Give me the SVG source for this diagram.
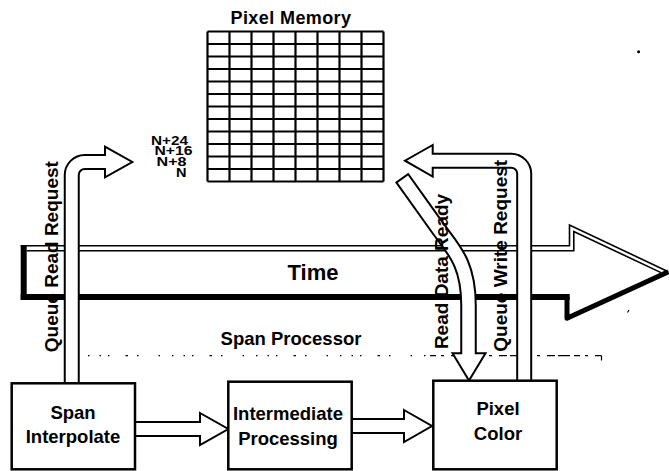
<svg xmlns="http://www.w3.org/2000/svg" width="669" height="471" viewBox="0 0 669 471">
<style>
  text { font-family: "Liberation Sans", Arial, Helvetica, sans-serif; font-weight: bold; fill: #000; }
  .box { fill: #fff; stroke: #000; stroke-width: 2.5; }
  .lbl { font-size: 18.5px; text-anchor: middle; }
  .vlbl { font-size: 19px; text-anchor: middle; }
  .nlbl { font-size: 13px; text-anchor: end; }
  .grid { fill: none; stroke: #000; stroke-width: 2.2; }
  .shaft-out { fill: none; stroke: #000; stroke-width: 16; }
  .shaft-in { fill: none; stroke: #fff; stroke-width: 12; }
  .head { fill: #fff; stroke: #000; stroke-width: 2; stroke-linejoin: miter; }
  .thin { fill: none; stroke: #000; stroke-width: 1.6; }
  .dots { fill: none; stroke: #000; stroke-width: 1.2; }
</style>
<rect width="669" height="471" fill="#fff"/>

<!-- time axis: hollow block arrow with heavy lower/left shadow -->
<g id="time">
  <polygon points="20.7,245.8 569.5,245.8 569.5,225 668.3,271.7 567,318.3 567,300 20.7,300" fill="#fff"/>
  <path class="thin" d="M20.7 245.8H569.5V225L668.3 271.7"/>
  <path class="thin" d="M26.7 250.8H573.8V231.5L661 272.6"/>
  <rect x="20.7" y="245" width="6" height="55" fill="#000"/>
  <rect x="20.7" y="294" width="549" height="6" fill="#000"/>
  <path d="M567 297V318.3L668.3 271.7" fill="none" stroke="#000" stroke-width="5" stroke-linejoin="round"/>
  <text x="313" y="280" font-size="22" text-anchor="middle">Time</text>
</g>

<!-- memory array: 8 columns x 12 rows -->
<g id="pixel-memory">
  <text x="291" y="24" font-size="18" letter-spacing="0.4" text-anchor="middle">Pixel Memory</text>
  <path class="grid" d="M207.5 31.5H383.5M207.5 44H383.5M207.5 56.5H383.5M207.5 69H383.5M207.5 81.5H383.5M207.5 94H383.5M207.5 106.5H383.5M207.5 119H383.5M207.5 131.5H383.5M207.5 144H383.5M207.5 156.5H383.5M207.5 169H383.5M207.5 181.5H383.5
    M207.5 31.5V181.5M229.5 31.5V181.5M251.5 31.5V181.5M273.5 31.5V181.5M295.5 31.5V181.5M317.5 31.5V181.5M339.5 31.5V181.5M361.5 31.5V181.5M383.5 31.5V181.5"/>
  <text class="nlbl" x="188" y="144.5" textLength="37" lengthAdjust="spacingAndGlyphs">N+24</text>
  <text class="nlbl" x="192.5" y="155" textLength="38" lengthAdjust="spacingAndGlyphs">N+16</text>
  <text class="nlbl" x="186.5" y="165.5" textLength="30" lengthAdjust="spacingAndGlyphs">N+8</text>
  <text class="nlbl" x="186.5" y="176.5" textLength="10.5" lengthAdjust="spacingAndGlyphs">N</text>
</g>

<!-- processor boundary -->
<g id="span-processor">
  <text class="lbl" x="291" y="345">Span Processor</text>
  <path class="dots" d="M88 355.7H430" stroke-dasharray="1.5 10 1.5 7 1.5 16 2.5 9 1.5 20 1.5 12"/>
  <path class="dots" d="M430 355.7H601.5" stroke-dasharray="6 5 3 7 8 3 12 4"/>
  <path class="dots" d="M601.5 355.7V360.5"/>
</g>

<g id="connectors">
  <!-- span interpolate -> memory (read request) -->
  <path class="shaft-out" d="M71.75 383V175A13 13 0 0 1 84.75 162H105"/>
  <polygon class="head" points="105,146.7 132.3,162 105,177.3"/>
  <path class="shaft-in" d="M71.75 385V175A13 13 0 0 1 84.75 162H107.5"/>

  <!-- pixel color -> memory (write request) -->
  <path class="shaft-out" d="M524.2 381V173.8A13 13 0 0 0 511.2 160.8H432.7"/>
  <polygon class="head" points="432.7,145 405,160.7 432.7,176.5"/>
  <path class="shaft-in" d="M524.2 383V173.8A13 13 0 0 0 511.2 160.8H430.5"/>

  <!-- memory -> pixel color (read data) -->
  <path class="shaft-out" style="stroke-width:16.5" d="M401.7 177.5L438 228.3C452 248 468.5 262 468.5 305V353.3"/>
  <polygon class="head" points="452.5,353.3 469,380.5 485.5,353.3"/>
  <path class="shaft-in" style="stroke-width:12.5" d="M402.9 179.1L438 228.3C452 248 468.5 262 468.5 305V355.5"/>

  <!-- pipeline stages -->
  <path class="shaft-out" d="M134 429H200"/>
  <polygon class="head" points="200,413 228.3,429 200,445"/>
  <path class="shaft-in" d="M134 429H202.5"/>

  <path class="shaft-out" d="M351 426H404"/>
  <polygon class="head" points="404,410 432,426 404,442"/>
  <path class="shaft-in" d="M351 426H406.5"/>

  <text class="vlbl" transform="translate(57.5 256.7) rotate(-90)">Queue Read Request</text>
  <text class="vlbl" transform="translate(448.3 271.5) rotate(-90)">Read Data Ready</text>
  <text class="vlbl" transform="translate(506.5 255.8) rotate(-90)">Queue Write Request</text>
</g>

<g id="span-interpolate">
  <rect class="box" x="11.7" y="383.3" width="123.3" height="86"/>
  <text class="lbl" x="73" y="419">Span</text>
  <text class="lbl" x="73" y="443.3">Interpolate</text>
</g>

<g id="intermediate-processing">
  <rect class="box" x="228.3" y="381.7" width="123.4" height="87.6"/>
  <text class="lbl" x="288" y="420">Intermediate</text>
  <text class="lbl" x="288" y="445">Processing</text>
</g>

<g id="pixel-color">
  <rect class="box" x="433.3" y="380.7" width="123.4" height="88.6"/>
  <text class="lbl" x="498" y="415">Pixel</text>
  <text class="lbl" x="498" y="440">Color</text>
</g>

<!-- stray marks -->
<circle cx="638.6" cy="51.7" r="1.5" fill="#000"/>
<path d="M627.5 312.5L629 310" stroke="#000" stroke-width="1.2"/>
</svg>
